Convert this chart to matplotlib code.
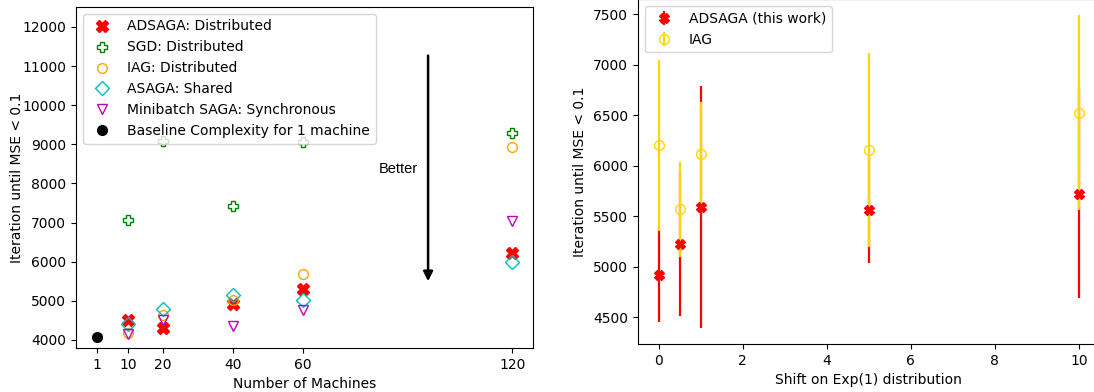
import matplotlib
matplotlib.use("Agg")
import matplotlib.pyplot as plt

# ---- Left panel data ----
machines = [10, 20, 40, 60, 120]
adsaga = [4510, 4300, 4920, 5300, 6230]
sgd = [7060, 9090, 7430, 9050, 9290]
iag = [4170, 4640, 5020, 5690, 8920]
asaga = [4410, 4800, 5150, 5020, 5990]
minibatch = [4145, 4510, 4370, 4770, 7050]
baseline_x = [1]
baseline_y = [4085]
xticks_left = [1, 10, 20, 40, 60, 120]

# ---- Right panel data ----
shift = [0, 0.5, 1, 5, 10]
ads_mean = [4924, 5223, 5592, 5560, 5726]
ads_err = [465, 705, 1200, 520, 1030]
iag_mean = [6204, 5572, 6113, 6153, 6526]
iag_err = [847, 470, 514, 960, 966]

plt.rcParams['font.family'] = ['DejaVu Sans']
plt.rcParams['font.size'] = 10

fig = plt.figure(figsize=(10.94, 3.92), dpi=100)
ax1 = fig.add_axes([76/1094, 44/392, 457/1094, 341/392])
ax2 = fig.add_axes([637.7/1094, 48/392, 462.3/1094, 344.6/392])

ax1.plot(machines, adsaga, linestyle='none', marker='X', color='red', markersize=9,
         label='ADSAGA: Distributed')
ax1.plot(machines, sgd, linestyle='none', marker='P', markerfacecolor='none',
         markeredgecolor='green', markersize=7, label='SGD: Distributed')
ax1.plot(machines, iag, linestyle='none', marker='o', markerfacecolor='none',
         markeredgecolor='orange', markersize=7, label='IAG: Distributed')
ax1.plot(machines, asaga, linestyle='none', marker='D', markerfacecolor='none',
         markeredgecolor='c', markersize=7, label='ASAGA: Shared')
ax1.plot(machines, minibatch, linestyle='none', marker='v', markerfacecolor='none',
         markeredgecolor='m', markersize=7, label='Minibatch SAGA: Synchronous')
ax1.plot(baseline_x, baseline_y, linestyle='none', marker='o', color='black',
         markersize=7, label='Baseline Complexity for 1 machine')
ax1.set_xticks(xticks_left)
ax1.set_ylim(3795, 12510)
ax1.set_xlabel('Number of Machines')
ax1.set_ylabel('Iteration until MSE < 0.1', labelpad=-1)
ax1.legend(loc='upper left')
ax1.annotate('', xy=(95.9, 5430), xytext=(95.9, 11340),
             arrowprops=dict(arrowstyle='-|>', color='black', lw=1.8,
                             mutation_scale=14))
ax1.text(87.3, 8370, 'Better', ha='center', va='center', fontsize=10.5,
         family=['Liberation Sans'])

c1 = ax2.errorbar(shift, ads_mean, yerr=ads_err, fmt='X', color='red', ecolor='red',
                  elinewidth=1.6, markersize=7, label='ADSAGA (this work)')
c2 = ax2.errorbar(shift, iag_mean, yerr=iag_err, fmt='o', color='gold', ecolor='gold',
                  elinewidth=1.6, markersize=7, markerfacecolor='none',
                  label='IAG')
c1.lines[0].set_zorder(4)
c2.lines[0].set_zorder(4)
ax2.set_xlabel('Shift on Exp(1) distribution')
ax2.set_ylabel('Iteration until MSE < 0.1')
ax2.set_xlim(-0.5, 10.5)
ax2.spines['right'].set_visible(False)
ax2.legend(loc='upper left')

fig.savefig('out.png', dpi=100)
